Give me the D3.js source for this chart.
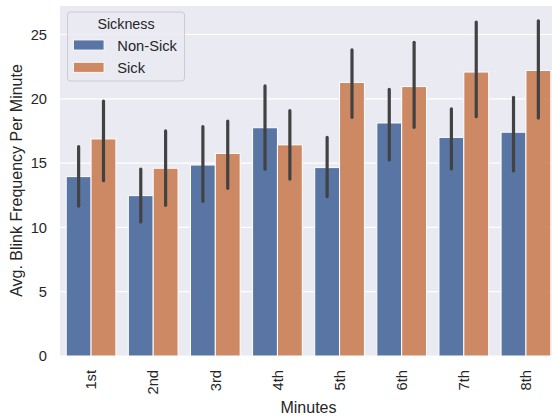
<!DOCTYPE html>
<html><head><meta charset="utf-8">
<script src="https://cdn.jsdelivr.net/npm/d3@7"></script>
<style>body{margin:0;background:#fff}svg{display:block}text{font-family:"Liberation Sans",Arial,sans-serif;fill:#262626}</style>
</head><body><svg id="c" width="552" height="417"></svg>
<script>
const minutes = ["1st","2nd","3rd","4th","5th","6th","7th","8th"];
const seriesNames = ["Non-Sick","Sick"];
const nonSick    = [13.95,12.47,14.85,17.75,14.65,18.12,17.0,17.4];
const nonSickLo  = [11.66,10.42,12.03,14.52,12.39,15.24,14.54,14.39];
const nonSickHi  = [16.28,14.54,17.83,21.0,17.0,20.74,19.21,20.11];
const sick       = [16.88,14.6,15.75,16.42,21.27,20.95,22.08,22.2];
const sickLo     = [13.63,11.72,13.04,13.76,18.56,17.78,18.61,18.5];
const sickHi     = [19.83,17.5,18.27,19.08,23.8,24.39,25.97,26.07];
const yTicks = [0,5,10,15,20,25];
const colors = ["#5975a4","#cc8963"];

const svg = d3.select("#c");
const L=60, R=557, T=6, B=356;
const unit = (R-L)/minutes.length;
const y = d3.scaleLinear().domain([0,25]).range([B,34.5]);

svg.append("rect").attr("x",L).attr("y",T).attr("width",R-L).attr("height",B-T).attr("fill","#eaeaf2");
svg.append("g").selectAll("line").data(yTicks).join("line")
  .attr("x1",L).attr("x2",R).attr("y1",d=>y(d)).attr("y2",d=>y(d))
  .attr("stroke","#fff").attr("stroke-width",1.2);

const data = [
  {vals:nonSick, lo:nonSickLo, hi:nonSickHi},
  {vals:sick, lo:sickLo, hi:sickHi}
];
const inner = d3.scaleBand().domain([0,1]).range([0,unit*0.8]);
const groupX = i => L + unit*i + unit*0.1;

data.forEach((s,si)=>{
  svg.append("g").selectAll("rect").data(s.vals).join("rect")
    .attr("x",(d,i)=>groupX(i)+inner(si))
    .attr("width",inner.bandwidth())
    .attr("y",d=>y(d)).attr("height",d=>B-y(d))
    .attr("fill",colors[si]).attr("stroke","#fff").attr("stroke-width",1);
});
data.forEach((s,si)=>{
  svg.append("g").selectAll("line").data(s.vals).join("line")
    .attr("x1",(d,i)=>groupX(i)+inner(si)+inner.bandwidth()/2)
    .attr("x2",(d,i)=>groupX(i)+inner(si)+inner.bandwidth()/2)
    .attr("y1",(d,i)=>y(s.lo[i])).attr("y2",(d,i)=>y(s.hi[i]))
    .attr("stroke","#424242").attr("stroke-width",3.2).attr("stroke-linecap","round");
});

// y axis
const yAxis = d3.axisLeft(y).tickValues(yTicks).tickSize(0).tickPadding(13);
const ya = svg.append("g").attr("transform",`translate(${L},0)`).call(yAxis);
ya.select(".domain").remove();
ya.selectAll("text").attr("font-size",14.7).style("fill","#262626").attr("font-family","Liberation Sans, Arial, sans-serif");

// x axis
const xa = svg.append("g").attr("transform",`translate(0,${B})`);
xa.selectAll("text").data(minutes).join("text")
  .attr("transform",(d,i)=>`translate(${groupX(i)+unit*0.4+5.3},14) rotate(-90)`)
  .attr("text-anchor","end").attr("font-size",14.7).text(d=>d);

svg.append("text").attr("x",(L+R)/2).attr("y",412.5).attr("text-anchor","middle").attr("font-size",16).text("Minutes");
svg.append("text").attr("transform",`translate(22,${(T+B)/2 - 0.5}) rotate(-90)`).attr("text-anchor","middle").attr("font-size",16).text("Avg. Blink Frequency Per Minute");

// legend
const lg = svg.append("g");
lg.append("rect").attr("x",67.5).attr("y",12).attr("width",117).attr("height",69).attr("rx",3)
  .attr("fill","#eaeaf2").attr("fill-opacity",0.8).attr("stroke","#cccccc");
lg.append("text").attr("x",126).attr("y",29).attr("text-anchor","middle").attr("font-size",14.3).text("Sickness");
seriesNames.forEach((n,i)=>{
  lg.append("rect").attr("x",73.5).attr("y",40+i*22.3).attr("width",30.5).attr("height",10).attr("fill",colors[i]).attr("stroke","#fff").attr("stroke-width",0.8);
  lg.append("text").attr("x",117.3).attr("y",50.7+i*22).attr("font-size",14.7).text(n);
});
</script></body></html>
